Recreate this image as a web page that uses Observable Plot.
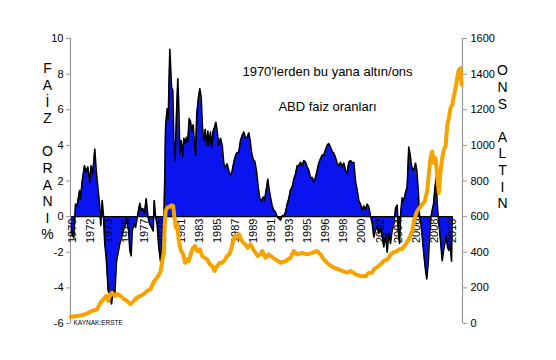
<!DOCTYPE html>
<html><head><meta charset="utf-8">
<script src="https://cdn.jsdelivr.net/npm/d3@7"></script>
<script src="https://cdn.jsdelivr.net/npm/@observablehq/plot@0.6"></script>
<style>body{margin:0;background:#fff} #chart svg{display:block}</style>
</head><body><div id="chart"></div>
<script>
// US interest rates (%) — decimal years
const rateYears = [1970.00,1970.18,1970.35,1970.53,1970.70,1970.95,1971.05,1971.23,1971.47,1971.65,1971.82,1972.00,1972.17,1972.34,1972.55,1972.70,1972.87,1973.05,1973.18,1973.33,1973.47,1973.60,1973.75,1973.96,1974.13,1974.31,1974.48,1974.65,1974.83,1975.01,1975.18,1975.36,1975.53,1975.70,1975.88,1976.02,1976.12,1976.23,1976.37,1976.48,1976.65,1976.83,1976.96,1977.11,1977.28,1977.42,1977.59,1977.77,1977.95,1978.12,1978.30,1978.51,1978.68,1978.79,1978.93,1979.10,1979.27,1979.45,1979.63,1979.80,1979.90,1979.98,1980.15,1980.26,1980.43,1980.61,1980.74,1980.85,1980.99,1981.13,1981.27,1981.37,1981.48,1981.62,1981.76,1981.90,1982.04,1982.18,1982.32,1982.46,1982.60,1982.74,1982.88,1983.02,1983.13,1983.26,1983.44,1983.58,1983.72,1983.86,1984.00,1984.14,1984.28,1984.42,1984.56,1984.70,1984.84,1984.98,1985.12,1985.26,1985.40,1985.57,1985.75,1985.93,1986.10,1986.28,1986.45,1986.62,1986.80,1986.98,1987.15,1987.33,1987.50,1987.67,1987.85,1988.03,1988.20,1988.38,1988.55,1988.72,1988.87,1989.01,1989.18,1989.35,1989.53,1989.71,1989.88,1990.06,1990.23,1990.37,1990.58,1990.72,1990.82,1991.00,1991.18,1991.35,1991.53,1991.70,1991.87,1992.05,1992.23,1992.40,1992.58,1992.75,1992.92,1993.10,1993.28,1993.45,1993.63,1993.80,1993.97,1994.15,1994.33,1994.50,1994.68,1994.85,1995.02,1995.20,1995.38,1995.55,1995.73,1995.90,1996.07,1996.25,1996.43,1996.60,1996.78,1996.95,1997.12,1997.30,1997.48,1997.65,1997.83,1998.00,1998.17,1998.35,1998.53,1998.70,1998.88,1999.05,1999.22,1999.40,1999.58,1999.75,1999.93,2000.10,2000.27,2000.45,2000.63,2000.80,2000.98,2001.15,2001.32,2001.50,2001.68,2001.85,2002.03,2002.20,2002.37,2002.55,2002.73,2002.90,2003.08,2003.25,2003.42,2003.60,2003.78,2003.95,2004.13,2004.30,2004.41,2004.55,2004.68,2004.83,2005.00,2005.18,2005.35,2005.52,2005.67,2005.81,2005.94,2006.09,2006.23,2006.36,2006.51,2006.65,2006.78,2006.93,2007.10,2007.28,2007.41,2007.56,2007.70,2007.83,2007.98,2008.12,2008.25,2008.40,2008.50,2008.61,2008.75,2008.88,2009.03,2009.17,2009.30,2009.45,2009.59,2009.72,2009.87,2010.01,2010.08];
const rateValues = [-0.3,-1.0,-1.2,0.7,0.6,1.46,1.0,2.0,2.86,2.5,2.8,1.93,2.86,2.4,3.8,2.6,1.65,0.7,-0.5,0.9,0.0,-1.5,-2.3,-4.15,-4.4,-4.9,-4.1,-4.4,-2.5,-2.0,-1.5,-1.2,-0.8,-0.6,-0.1,-0.6,-0.8,-1.9,-2.2,-0.8,-0.4,-0.6,-0.2,0.25,0.75,0.35,0.45,0.2,1.0,0.05,-0.4,-0.6,-0.8,0.9,0.0,-0.45,-1.7,-2.5,-0.8,-0.2,2.2,5.0,6.05,5.5,9.4,7.26,7.1,4.27,3.15,5.77,7.74,6.2,3.5,4.27,3.35,4.4,4.1,4.45,4.2,5.5,5.35,4.8,5.15,4.08,3.43,5.77,6.7,7.17,6.7,5.0,4.27,4.9,4.0,4.8,4.0,4.75,3.9,4.8,5.0,5.3,4.8,4.0,4.4,4.0,2.96,2.77,2.96,2.58,2.3,2.58,3.05,3.43,3.6,3.6,4.27,4.55,4.75,4.4,4.45,4.7,4.25,3.6,3.2,3.1,2.58,1.65,1.0,0.9,1.1,0.9,1.6,2.1,1.65,1.1,0.6,0.35,0.25,0.0,-0.1,-0.2,0.05,0.05,0.25,0.7,1.0,1.5,1.65,2.1,2.4,2.85,2.85,3.05,2.85,3.15,3.05,2.8,2.6,2.2,2.2,1.95,2.2,2.6,3.0,3.25,3.45,3.45,3.75,4.0,4.1,3.9,3.65,3.55,3.3,3.0,2.85,3.05,2.8,3.0,2.6,2.4,3.05,3.15,3.0,3.05,1.95,1.5,0.9,0.7,0.35,0.6,0.4,0.7,0.55,0.05,-0.35,-1.15,-0.75,-0.55,-0.95,-0.65,-1.15,-1.7,-0.95,-2.0,-0.95,-1.5,-0.75,-0.45,0.45,0.65,-0.75,-1.5,0.25,1.05,0.9,1.35,1.65,3.9,3.45,2.85,2.6,2.7,3.0,2.6,1.5,0.0,-0.35,-1.1,-2.1,-3.0,-3.5,-2.6,-1.1,-0.1,0.35,0.7,1.5,2.2,0.75,0.0,-0.75,-1.5,-2.47,-1.9,-1.5,-1.1,-1.7,-1.9,-1.5,-2.5,0.0];

// Gold price (USD / ounce) — decimal years
const goldYears = [1970.00,1970.87,1971.58,1972.28,1972.80,1973.15,1973.50,1973.75,1973.96,1974.20,1974.38,1974.65,1974.90,1975.25,1975.60,1975.95,1976.30,1976.65,1977.00,1977.35,1977.70,1978.05,1978.40,1978.75,1979.10,1979.45,1979.69,1979.80,1979.87,1979.98,1980.15,1980.43,1980.61,1980.78,1980.92,1981.06,1981.20,1981.34,1981.48,1981.62,1981.83,1982.04,1982.25,1982.42,1982.67,1982.88,1983.09,1983.30,1983.58,1983.83,1984.07,1984.35,1984.63,1984.88,1985.12,1985.40,1985.68,1985.96,1986.24,1986.45,1986.66,1986.87,1987.08,1987.29,1987.50,1987.71,1987.92,1988.13,1988.38,1988.62,1988.90,1989.18,1989.43,1989.67,1989.95,1990.13,1990.48,1990.82,1991.00,1991.53,1992.05,1992.58,1993.10,1993.45,1993.80,1994.33,1994.85,1995.38,1995.90,1996.25,1996.60,1997.12,1997.65,1998.17,1998.53,1999.05,1999.40,1999.93,2000.45,2000.98,2001.32,2001.68,2001.85,2002.37,2002.90,2003.25,2003.42,2003.60,2003.95,2004.30,2004.47,2004.83,2005.18,2005.52,2005.88,2006.15,2006.40,2006.65,2006.93,2007.20,2007.45,2007.62,2007.80,2007.98,2008.15,2008.33,2008.50,2008.67,2008.85,2009.03,2009.20,2009.38,2009.55,2009.72,2009.90,2010.08,2010.25,2010.43,2010.60,2010.77,2010.95,2011.06];
const goldValues = [37,43,52,71,80,117,137,155,127,165,173,155,165,155,137,127,109,127,146,155,165,183,192,235,257,290,369,390,519,630,650,656,664,660,593,537,556,481,435,407,388,341,360,350,397,425,435,407,416,379,369,360,332,323,295,323,341,341,360,379,388,416,463,491,481,500,472,453,444,425,444,416,397,379,388,407,369,388,379,360,341,350,369,407,388,397,388,397,407,388,360,332,313,304,295,285,295,276,267,265,285,285,304,323,351,360,369,388,400,407,416,420,444,472,519,593,631,649,668,687,743,836,929,966,901,929,836,733,854,929,976,994,1107,1153,1209,1228,1274,1321,1377,1424,1433,1340];

const yearTickLabels = ["1970","1972","1973","1975","1977","1979","1981","1983","1985","1987","1989","1991","1993","1995","1996","1998","2000","2002","2004","2006","2008","2010"];
const rateTicks = [-6,-4,-2,0,2,4,6,8,10];
const goldTicks = [0,200,400,600,800,1000,1200,1400,1600];

const title1 = "1970'lerden bu yana altın/ons";
const title2 = "ABD faiz oranları";
const leftLabel = "F\nA\nİ\nZ\n\u00a0\nO\nR\nA\nN\nI\n%";
const rightLabel = "O\nN\nS\n\u00a0\nA\nL\nT\nI\nN";
const source = "KAYNAK:ERSTE";

const BLUE = "#0a14ee";
const GOLD = "#f6a300";
const X0 = 1970, X1 = 2011.16;
const tickStart = 1970.2, tickStep = 1.9;
const goldToY = g => g / 100 - 6;

const rate = rateYears.map((x, i) => ({x, v: rateValues[i]}));
const gold = goldYears.map((x, i) => ({x, v: goldToY(goldValues[i])}));

const chart = Plot.plot({
  width: 556, height: 360,
  marginLeft: 70, marginRight: 94, marginTop: 38, marginBottom: 37,
  style: {fontFamily: "'Liberation Sans', Arial, Helvetica, sans-serif", fontSize: "11px", background: "#fff", color: "#000"},
  x: {domain: [X0, X1], axis: null, label: null},
  y: {domain: [-6, 10], axis: null, label: null},
  marks: [
    Plot.areaY(rate, {x: "x", y: "v", fill: BLUE}),
    Plot.line(rate, {x: "x", y: "v", stroke: "#000", strokeWidth: 1.6}),
    Plot.ruleY([0], {x1: rateYears[0], x2: rateYears[rateYears.length - 1], stroke: "#000", strokeWidth: 1.4}),
    Plot.ruleX([X0], {stroke: "#999", strokeWidth: 1.2}),
    Plot.ruleX([X1], {stroke: "#999", strokeWidth: 1.2}),
    Plot.axisY(rateTicks, {anchor: "left", label: null, tickSize: 4, tickPadding: 3, stroke: "#999", fontSize: 11, tickFormat: d => String(d)}),
    Plot.axisY(goldTicks.map(goldToY), {anchor: "right", label: null, tickSize: 4, tickPadding: 4, stroke: "#999", fontSize: 11, tickFormat: d => String(Math.round((d + 6) * 100))}),
    Plot.text(yearTickLabels, {x: (d, i) => tickStart + i * tickStep, y: 0, text: d => d, rotate: -90, textAnchor: "end", dy: 2, fontSize: 11, fill: "#000"}),
    Plot.line(gold, {x: "x", y: "v", stroke: GOLD, strokeWidth: 4, strokeLinejoin: "round"}),
    Plot.text([leftLabel], {frameAnchor: "left", text: d => d, dx: -23, dy: -30, fontSize: 14, lineHeight: 1.186, textAnchor: "middle", fill: "#000"}),
    Plot.text([rightLabel], {frameAnchor: "right", text: d => d, dx: 40, dy: -44.5, fontSize: 14, lineHeight: 1.186, textAnchor: "middle", fill: "#000"}),
    Plot.text([title1], {frameAnchor: "top", text: d => d, dx: 61, dy: 28, fontSize: 13, fill: "#000"}),
    Plot.text([title2], {frameAnchor: "top", text: d => d, dx: 61, dy: 63, fontSize: 13, fill: "#000"}),
    Plot.text([source], {frameAnchor: "bottom-left", text: d => d, dx: 3, dy: 1.5, fontSize: 6.5, textAnchor: "start", fill: "#000"})
  ]
});
document.getElementById("chart").appendChild(chart);
</script>
</body></html>
